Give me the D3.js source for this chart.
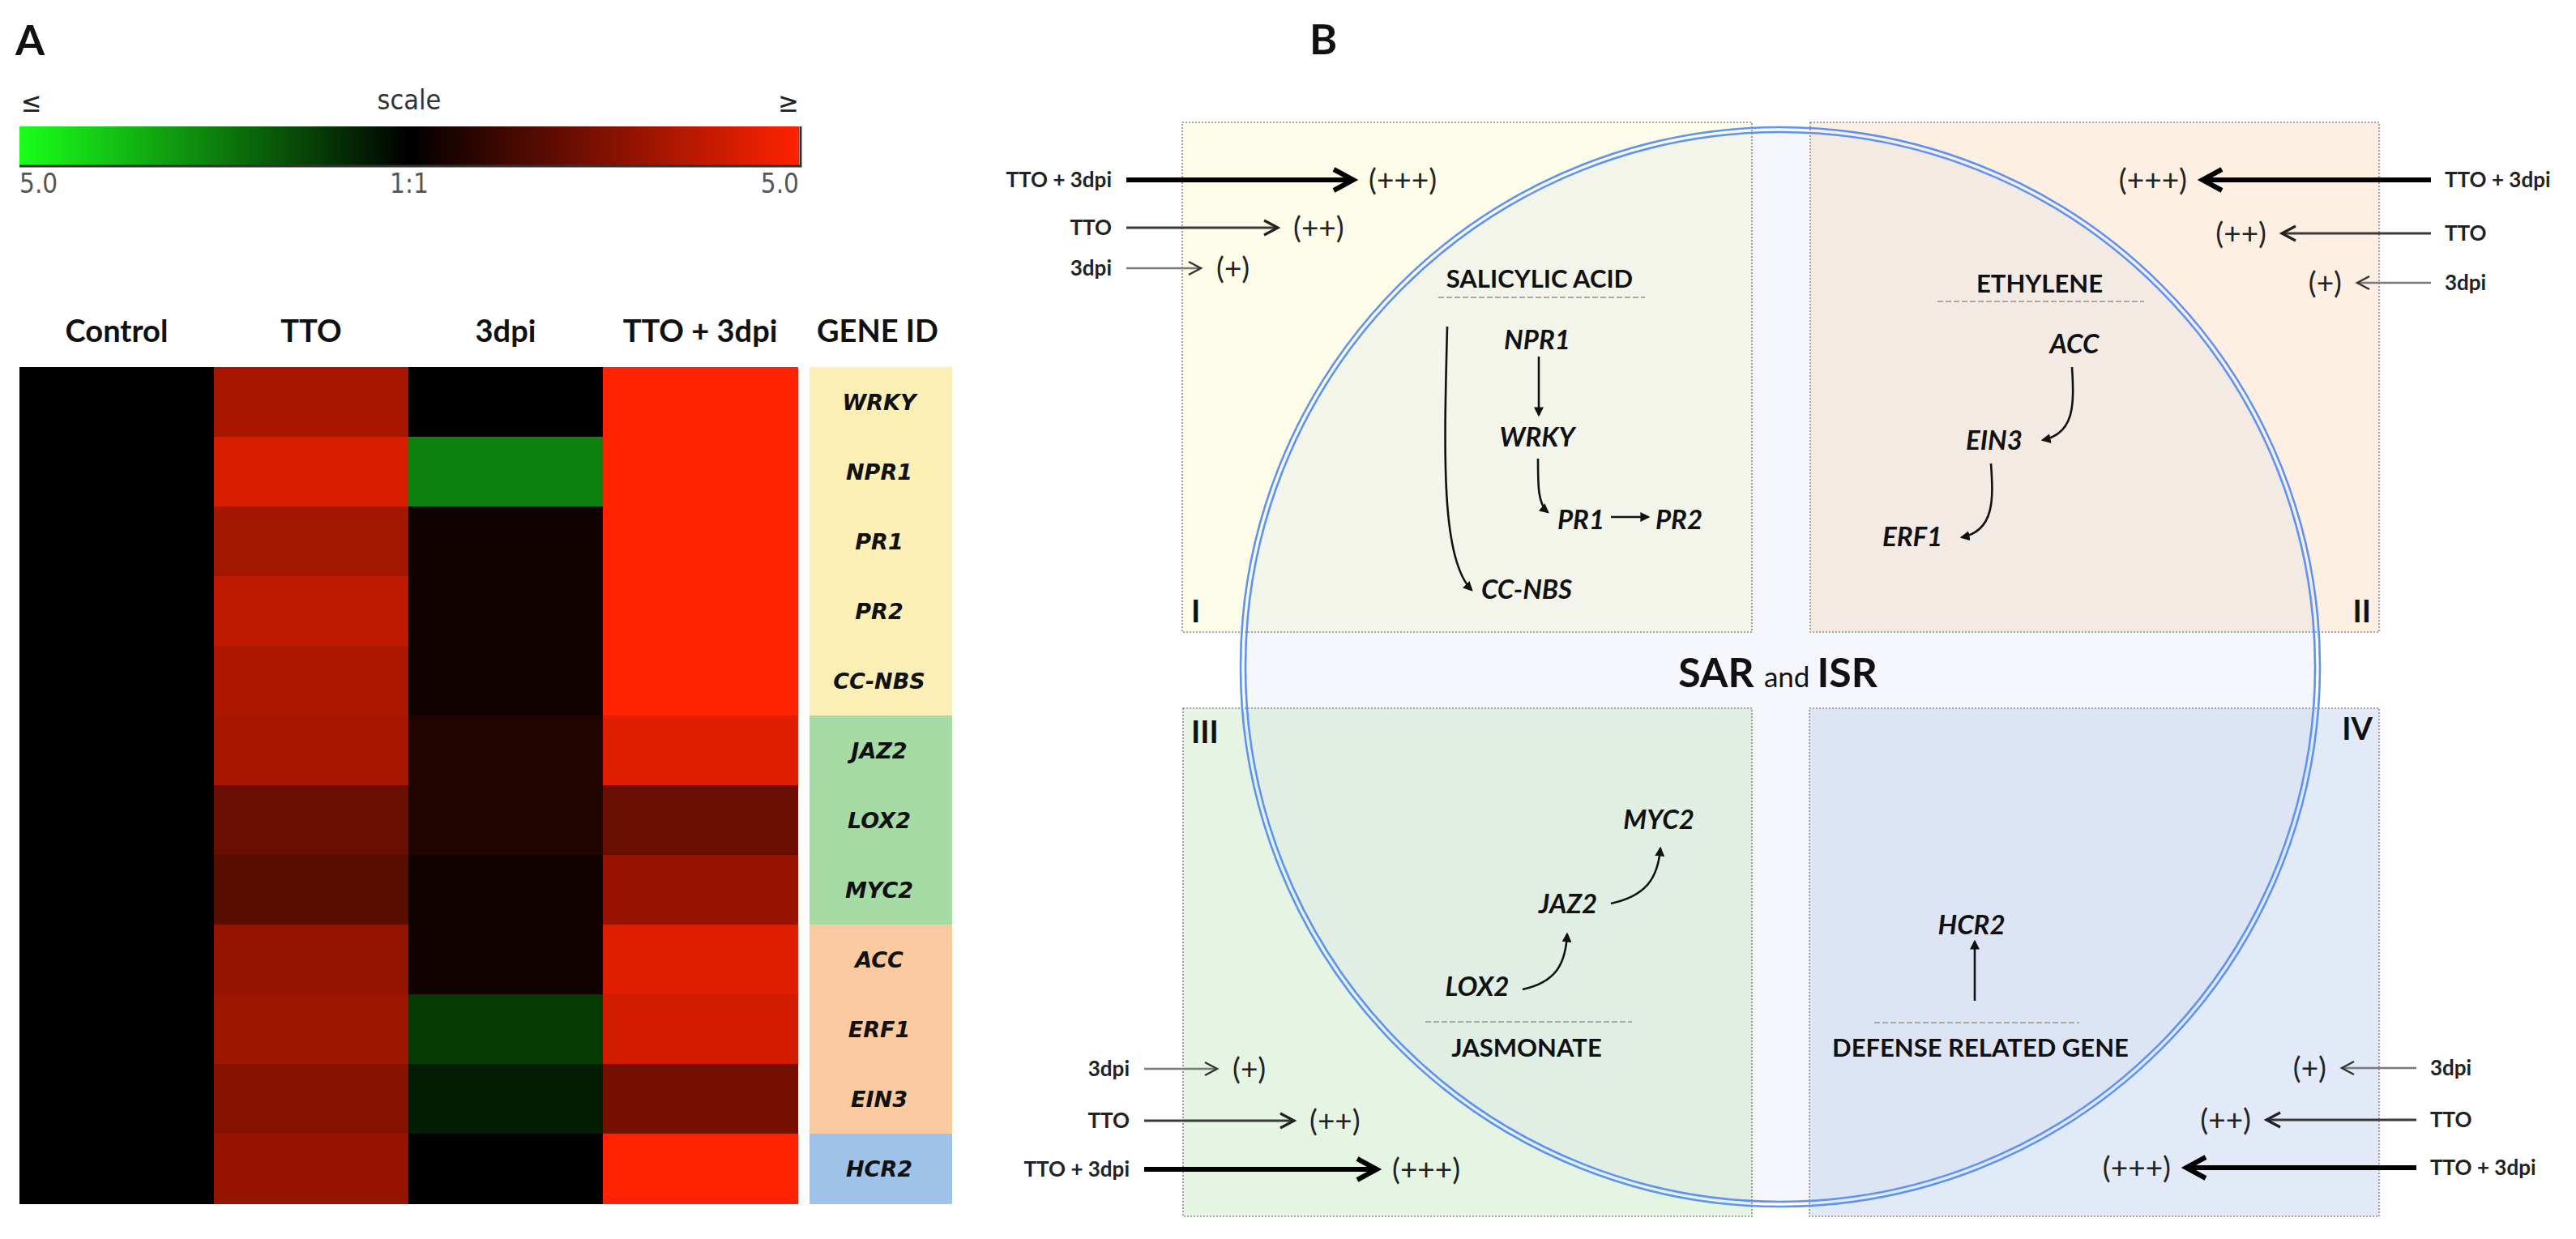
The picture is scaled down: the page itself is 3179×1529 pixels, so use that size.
<!DOCTYPE html>
<html><head><meta charset="utf-8">
<script src="https://cdn.jsdelivr.net/npm/d3@7"></script>
<style>body{margin:0;background:#fff}svg{display:block}</style>
</head><body>
<svg id="chart" width="3179" height="1529"></svg>
<script>
// ---------------- DATA ----------------
const conditions = ["Control", "TTO", "3dpi", "TTO + 3dpi"];
const genes = ["WRKY", "NPR1", "PR1", "PR2", "CC-NBS", "JAZ2", "LOX2", "MYC2", "ACC", "ERF1", "EIN3", "HCR2"];
const geneGroups = ["SA", "SA", "SA", "SA", "SA", "JA", "JA", "JA", "ET", "ET", "ET", "DEF"];
const controlValues = [0, 0, 0, 0, 0, 0, 0, 0, 0, 0, 0, 0];
const ttoValues = [3.3, 4.2, 3.2, 3.75, 3.4, 3.3, 2.05, 1.75, 2.9, 3.05, 2.65, 2.95];
const dpiValues = [0, -2.5, 0.3, 0.3, 0.3, 0.65, 0.6, 0.3, 0.3, -1.15, -0.57, 0];
const ttoDpiValues = [5, 5, 5, 5, 5, 4.4, 2.05, 3.0, 4.4, 4.1, 2.3, 5];
const scaleDomain = [-5, 0, 5];
const scaleTicks = ["5.0", "1:1", "5.0"];
const treatments = ["3dpi", "TTO", "TTO + 3dpi"];
const responseLabels = ["(+)", "(++)", "(+++)"];
const quadrantNames = ["I", "II", "III", "IV"];
const pathwayTitles = ["SALICYLIC ACID", "ETHYLENE", "JASMONATE", "DEFENSE RELATED GENE"];

// ---------------- STYLE ----------------
const groupColor = {SA: "#fcefb5", JA: "#a6dba6", ET: "#fbcaa0", DEF: "#9fc3e8"};
const LATO = "Lato, 'Open Sans', sans-serif";
const DJV = "'DejaVu Sans', sans-serif";
const DJVC = "'DejaVu Sans Condensed', 'DejaVu Sans', sans-serif";

const svg = d3.select("#chart");
svg.append("rect").attr("width", 3179).attr("height", 1529).attr("fill", "#fff");
const defs = svg.append("defs");

// ---------------- PANEL A ----------------
svg.append("text").attr("x", 19).attr("y", 68).text("A")
  .attr("font-family", LATO).attr("font-weight", 700).attr("font-size", 52).attr("fill", "#111");

const color = d3.scaleLinear().domain(scaleDomain).range(["#1aff1a", "#000000", "#ff2200"]).clamp(true);

// colour scale bar
const grad = defs.append("linearGradient").attr("id", "scaleGrad");
d3.range(0, 1.0001, 0.05).forEach(t => {
  grad.append("stop").attr("offset", t).attr("stop-color", color(scaleDomain[0] + t * (scaleDomain[2] - scaleDomain[0])));
});
const barX = d3.scaleLinear().domain([scaleDomain[0], scaleDomain[2]]).range([24, 986]);
svg.append("rect").attr("x", barX(-5)).attr("y", 156).attr("width", barX(5) - barX(-5)).attr("height", 48)
  .attr("fill", "url(#scaleGrad)");
svg.append("path").attr("d", `M${barX(-5)},205 H${barX(5) + 2} V156`).attr("fill", "none")
  .attr("stroke", "#333").attr("stroke-width", 3);
svg.append("text").attr("x", barX(0)).attr("y", 135).attr("text-anchor", "middle").text("scale")
  .attr("font-family", DJVC).attr("font-size", 34).attr("fill", "#333");
svg.append("text").attr("x", 26).attr("y", 138).text("≤")
  .attr("font-family", DJVC).attr("font-size", 34).attr("fill", "#222");
svg.append("text").attr("x", barX(5)).attr("y", 138).attr("text-anchor", "end").text("≥")
  .attr("font-family", DJVC).attr("font-size", 34).attr("fill", "#222");
const tickAnchors = ["start", "middle", "end"];
scaleTicks.forEach((t, i) => {
  svg.append("text").attr("x", barX(scaleDomain[i])).attr("y", 238).attr("text-anchor", tickAnchors[i]).text(t)
    .attr("font-family", DJVC).attr("font-size", 33).attr("fill", "#555");
});

// heatmap
const x = d3.scaleBand().domain(conditions).range([24, 984]).round(true);
const y = d3.scaleBand().domain(genes).range([451, 1486]).round(true);
const matrix = [controlValues, ttoValues, dpiValues, ttoDpiValues];
const cells = [];
conditions.forEach((c, ci) => genes.forEach((g, gi) => cells.push({c, g, v: matrix[ci][gi]})));
svg.append("g").attr("shape-rendering", "crispEdges").selectAll("rect").data(cells).join("rect")
  .attr("x", d => x(d.c)).attr("y", d => y(d.g))
  .attr("width", x.bandwidth() + 1).attr("height", y.bandwidth() + 1)
  .attr("fill", d => color(d.v));

svg.append("g").selectAll("text").data(conditions).join("text")
  .attr("x", d => x(d) + x.bandwidth() / 2).attr("y", 422).attr("text-anchor", "middle").text(d => d)
  .attr("font-family", LATO).attr("font-weight", 700).attr("font-size", 38).attr("fill", "#111");

const geneColX = 999, geneColW = 176;
svg.append("text").attr("x", geneColX + geneColW / 2 - 4).attr("y", 422).attr("text-anchor", "middle").text("GENE ID")
  .attr("font-family", LATO).attr("font-weight", 700).attr("font-size", 38).attr("fill", "#111");
svg.append("g").attr("shape-rendering", "crispEdges").selectAll("rect").data(genes).join("rect")
  .attr("x", geneColX).attr("y", d => y(d)).attr("width", geneColW).attr("height", y.bandwidth() + 1)
  .attr("fill", (d, i) => groupColor[geneGroups[i]]);
svg.append("g").selectAll("text").data(genes).join("text")
  .attr("x", geneColX + geneColW / 2 - 2).attr("y", d => y(d) + y.bandwidth() / 2).attr("dy", "0.36em")
  .attr("text-anchor", "middle").text(d => d)
  .attr("font-family", DJV).attr("font-weight", 700).attr("font-style", "italic").attr("font-size", 27).attr("fill", "#111");

// ---------------- PANEL B ----------------
svg.append("text").attr("x", 1616).attr("y", 67).text("B")
  .attr("font-family", LATO).attr("font-weight", 700).attr("font-size", 52).attr("fill", "#111");

const boxes = [
  {x0: 1459, y0: 151, x1: 2162, y1: 780, fill: "#fefdea"},
  {x0: 2234, y0: 151, x1: 2936, y1: 780, fill: "#fdf0e3"},
  {x0: 1460, y0: 874, x1: 2162, y1: 1501, fill: "#e6f4e3"},
  {x0: 2233, y0: 874, x1: 2936, y1: 1501, fill: "#e2eaf7"}
];
const circ = {cx: 2197, cy: 823, r: 663};

svg.append("g").selectAll("rect").data(boxes).join("rect")
  .attr("x", d => d.x0).attr("y", d => d.y0).attr("width", d => d.x1 - d.x0).attr("height", d => d.y1 - d.y0)
  .attr("fill", d => d.fill);
svg.append("circle").attr("cx", circ.cx).attr("cy", circ.cy).attr("r", circ.r)
  .attr("fill", "rgb(195,205,238)").attr("fill-opacity", 0.17);
svg.append("g").selectAll("rect").data(boxes).join("rect")
  .attr("x", d => d.x0).attr("y", d => d.y0).attr("width", d => d.x1 - d.x0).attr("height", d => d.y1 - d.y0)
  .attr("fill", "none").attr("stroke", "#8a8a8a").attr("stroke-width", 1.6).attr("stroke-dasharray", "2,2");
[circ.r + 3, circ.r - 3].forEach(r => {
  svg.append("circle").attr("cx", circ.cx).attr("cy", circ.cy).attr("r", r)
    .attr("fill", "none").attr("stroke", "#5f93f0").attr("stroke-width", 2.6);
});

// quadrant numerals
const numerals = [
  {x: 1470, y: 768, a: "start"}, {x: 2926, y: 768, a: "end"},
  {x: 1470, y: 917, a: "start"}, {x: 2928, y: 913, a: "end"}
];
numerals.forEach((n, i) => {
  svg.append("text").attr("x", n.x).attr("y", n.y).attr("text-anchor", n.a).text(quadrantNames[i])
    .attr("font-family", LATO).attr("font-weight", 700).attr("font-size", 38).attr("fill", "#111");
});

// centre title
const sar = svg.append("text").attr("x", 2194).attr("y", 848).attr("text-anchor", "middle")
  .attr("font-family", LATO).attr("fill", "#111");
sar.append("tspan").text("SAR ").attr("font-weight", 700).attr("font-size", 50);
sar.append("tspan").text("and ").attr("font-weight", 400).attr("font-size", 35);
sar.append("tspan").text("ISR").attr("font-weight", 700).attr("font-size", 50);

// pathway titles with dashed rules
const titles = [
  {cx: 1900, ty: 344, ly: 367, lx0: 1775, lx1: 2030},
  {cx: 2517, ty: 350, ly: 372, lx0: 2391, lx1: 2646},
  {cx: 1884, ty: 1293, ly: 1261, lx0: 1759, lx1: 2014},
  {cx: 2444, ty: 1293, ly: 1262, lx0: 2313, lx1: 2566}
];
titles.forEach((t, i) => {
  svg.append("text").attr("x", t.cx).attr("y", t.ty).attr("dy", "0.36em").attr("text-anchor", "middle")
    .text(pathwayTitles[i]).attr("font-family", LATO).attr("font-weight", 700).attr("font-size", 31).attr("fill", "#111");
  svg.append("line").attr("x1", t.lx0).attr("x2", t.lx1).attr("y1", t.ly).attr("y2", t.ly)
    .attr("stroke", "#a9a9a9").attr("stroke-width", 2).attr("stroke-dasharray", "7,3");
});

// gene nodes in the diagram
const nodes = [
  {g: "NPR1", x: 1897, y: 419}, {g: "WRKY", x: 1897, y: 539}, {g: "PR1", x: 1951, y: 641},
  {g: "PR2", x: 2072, y: 641}, {g: "CC-NBS", x: 1884, y: 727},
  {g: "ACC", x: 2560, y: 424}, {g: "EIN3", x: 2461, y: 543}, {g: "ERF1", x: 2360, y: 662},
  {g: "MYC2", x: 2047, y: 1011}, {g: "JAZ2", x: 1935, y: 1115}, {g: "LOX2", x: 1823, y: 1217},
  {g: "HCR2", x: 2433, y: 1141}
];
svg.append("g").selectAll("text").data(nodes).join("text")
  .attr("x", d => d.x).attr("y", d => d.y).attr("dy", "0.36em").attr("text-anchor", "middle").text(d => d.g)
  .attr("font-family", LATO).attr("font-weight", 700).attr("font-style", "italic").attr("font-size", 33).attr("fill", "#111");

// pathway arrows
defs.append("marker").attr("id", "tri").attr("viewBox", "0 -5 10 10").attr("refX", 8).attr("refY", 0)
  .attr("markerWidth", 12).attr("markerHeight", 12).attr("markerUnits", "userSpaceOnUse").attr("orient", "auto")
  .append("path").attr("d", "M0,-5L10,0L0,5Z").attr("fill", "#111");
const links = [
  "M1899,440 L1899,512",
  "M1898,566 C1898,600 1898,622 1910,632",
  "M1988,638 L2034,638",
  "M1786,403 C1782,560 1778,690 1816,728",
  "M2557,453 C2560,500 2560,535 2521,543",
  "M2457,572 C2460,615 2462,655 2421,663",
  "M1879,1221 C1920,1212 1932,1190 1934,1153",
  "M1988,1115 C2030,1106 2046,1085 2049,1047",
  "M2437,1235 L2437,1162"
];
svg.append("g").selectAll("path").data(links).join("path").attr("d", d => d)
  .attr("fill", "none").attr("stroke", "#111").attr("stroke-width", 2.6).attr("marker-end", "url(#tri)");

// treatment arrows
const arrowStyle = [
  {w: 2.4, c: "#7a7a7a", hc: "#333", hl: 15, hh: 8},
  {w: 3.2, c: "#3a3a3a", hc: "#222", hl: 17, hh: 9},
  {w: 6, c: "#000", hc: "#000", hl: 24, hh: 13}
];
const arrowSets = [
  {side: "left", ys: [331, 281, 222], labelX: 1372, start: 1390, tips: [1482, 1577, 1670]},
  {side: "right", ys: [349, 288, 222], labelX: 3017, start: 3000, tips: [2909, 2816, 2718]},
  {side: "left", ys: [1319, 1383, 1443], labelX: 1394, start: 1412, tips: [1502, 1597, 1699]},
  {side: "right", ys: [1318, 1382, 1441], labelX: 2999, start: 2982, tips: [2890, 2797, 2698]}
];
arrowSets.forEach(s => {
  const dir = s.side === "left" ? 1 : -1;
  treatments.forEach((t, i) => {
    const yy = s.ys[i], st = arrowStyle[i], tip = s.tips[i];
    svg.append("text").attr("x", s.labelX).attr("y", yy).attr("dy", "0.36em")
      .attr("text-anchor", dir === 1 ? "end" : "start").text(t)
      .attr("font-family", LATO).attr("font-weight", 700).attr("font-size", 26).attr("fill", "#222");
    svg.append("line").attr("x1", s.start).attr("x2", tip - dir * 2).attr("y1", yy).attr("y2", yy)
      .attr("stroke", st.c).attr("stroke-width", st.w);
    svg.append("path").attr("d", `M${tip - dir * st.hl},${yy - st.hh} L${tip},${yy} L${tip - dir * st.hl},${yy + st.hh}`)
      .attr("fill", "none").attr("stroke", st.hc).attr("stroke-width", st.w).attr("stroke-linejoin", "miter");
    svg.append("text").attr("x", tip + dir * 19).attr("y", yy).attr("dy", "0.34em")
      .attr("text-anchor", dir === 1 ? "start" : "end").text(responseLabels[i])
      .attr("font-family", LATO).attr("font-weight", 400).attr("font-size", 37).attr("fill", "#222");
  });
});
</script>
</body></html>
